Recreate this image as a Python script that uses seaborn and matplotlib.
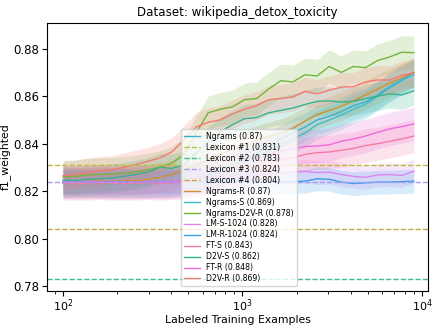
import numpy as np
import pandas as pd
import matplotlib
matplotlib.use("Agg")
import matplotlib.pyplot as plt
import seaborn as sns

# training set sizes (log spaced)
train_sizes = [100, 117, 136, 159, 186, 217, 254, 296, 346, 404, 472, 552, 644, 752, 879,
               1026, 1198, 1400, 1635, 1909, 2230, 2604, 3042, 3552, 4149, 4846, 5659, 6610, 7720, 9000]

ngrams = [0.8236, 0.8235, 0.8237, 0.8236, 0.8235, 0.8236, 0.8237, 0.8236, 0.8237, 0.8238,
          0.8245, 0.8255, 0.8270, 0.8290, 0.8310, 0.8330, 0.8360, 0.8390, 0.8420, 0.8445,
          0.8470, 0.8500, 0.8515, 0.8535, 0.8560, 0.8575, 0.8605, 0.8640, 0.8670, 0.8700]
ngrams_r = [0.8240, 0.8238, 0.8240, 0.8242, 0.8240, 0.8243, 0.8245, 0.8250, 0.8258, 0.8270,
            0.8290, 0.8310, 0.8330, 0.8355, 0.8375, 0.8395, 0.8415, 0.8430, 0.8445, 0.8465,
            0.8495, 0.8522, 0.8540, 0.8558, 0.8580, 0.8605, 0.8630, 0.8655, 0.8678, 0.8700]
ngrams_s = [0.8232, 0.8233, 0.8232, 0.8233, 0.8232, 0.8233, 0.8232, 0.8233, 0.8234, 0.8235,
            0.8240, 0.8250, 0.8262, 0.8280, 0.8300, 0.8320, 0.8345, 0.8370, 0.8390, 0.8420,
            0.8445, 0.8480, 0.8500, 0.8520, 0.8545, 0.8565, 0.8600, 0.8635, 0.8665, 0.8690]
ngrams_d2v_r = [0.8260, 0.8262, 0.8268, 0.8270, 0.8272, 0.8275, 0.8280, 0.8290, 0.8300, 0.8318,
                0.8355, 0.8445, 0.8530, 0.8545, 0.8555, 0.8585, 0.8590, 0.8630, 0.8665, 0.8660,
                0.8690, 0.8685, 0.8725, 0.8700, 0.8725, 0.8720, 0.8750, 0.8765, 0.8785, 0.8783]
lm_s_1024 = [0.8237, 0.8236, 0.8238, 0.8237, 0.8236, 0.8238, 0.8237, 0.8238, 0.8240, 0.8242,
             0.8245, 0.8250, 0.8255, 0.8260, 0.8262, 0.8265, 0.8268, 0.8272, 0.8275, 0.8280,
             0.8283, 0.8278, 0.8280, 0.8270, 0.8262, 0.8258, 0.8268, 0.8270, 0.8266, 0.8284]
lm_r_1024 = [0.8240, 0.8238, 0.8239, 0.8238, 0.8240, 0.8239, 0.8238, 0.8240, 0.8239, 0.8240,
             0.8241, 0.8240, 0.8241, 0.8242, 0.8240, 0.8241, 0.8240, 0.8241, 0.8240, 0.8240,
             0.8242, 0.8252, 0.8250, 0.8238, 0.8232, 0.8235, 0.8238, 0.8238, 0.8240, 0.8242]
ft_s = [0.8233, 0.8232, 0.8233, 0.8234, 0.8233, 0.8232, 0.8233, 0.8234, 0.8233, 0.8234,
        0.8238, 0.8245, 0.8255, 0.8268, 0.8282, 0.8295, 0.8310, 0.8322, 0.8333, 0.8340,
        0.8355, 0.8362, 0.8365, 0.8372, 0.8380, 0.8392, 0.8400, 0.8410, 0.8420, 0.8432]
d2v_s = [0.8247, 0.8245, 0.8250, 0.8252, 0.8255, 0.8262, 0.8270, 0.8280, 0.8300, 0.8296,
         0.8310, 0.8360, 0.8410, 0.8450, 0.8480, 0.8505, 0.8510, 0.8530, 0.8540, 0.8550,
         0.8565, 0.8578, 0.8580, 0.8575, 0.8578, 0.8590, 0.8600, 0.8610, 0.8605, 0.8622]
ft_r = [0.8238, 0.8237, 0.8238, 0.8239, 0.8238, 0.8237, 0.8238, 0.8239, 0.8238, 0.8239,
        0.8245, 0.8255, 0.8268, 0.8285, 0.8300, 0.8320, 0.8340, 0.8355, 0.8370, 0.8378,
        0.8388, 0.8390, 0.8395, 0.8410, 0.8420, 0.8432, 0.8448, 0.8462, 0.8472, 0.8483]
d2v_r = [0.8265, 0.8270, 0.8278, 0.8285, 0.8290, 0.8300, 0.8312, 0.8325, 0.8340, 0.8365,
         0.8415, 0.8470, 0.8490, 0.8500, 0.8525, 0.8545, 0.8560, 0.8585, 0.8590, 0.8597,
         0.8620, 0.8610, 0.8625, 0.8638, 0.8640, 0.8660, 0.8668, 0.8668, 0.8688, 0.8698]

# lexicon baselines (flat)
lexicon_names = ["Lexicon #1", "Lexicon #2", "Lexicon #3", "Lexicon #4"]
lexicon_scores = [0.831, 0.783, 0.824, 0.804]
lexicon_colors = ["#bdbb3a", "#3bbf8c", "#a4a0f0", "#c4aa3c"]

# learning curves: name, values, legend score, colour, band half width
curves = [
    ("Ngrams", ngrams, 0.87, "#3aaed0", 0.006),
    ("Ngrams-R", ngrams_r, 0.87, "#d4902e", 0.006),
    ("Ngrams-S", ngrams_s, 0.869, "#3cbccc", 0.006),
    ("Ngrams-D2V-R", ngrams_d2v_r, 0.878, "#74b43a", 0.007),
    ("LM-S-1024", lm_s_1024, 0.828, "#dc84f0", 0.005),
    ("LM-R-1024", lm_r_1024, 0.824, "#3a9ee8", 0.005),
    ("FT-S", ft_s, 0.843, "#f27ca0", 0.007),
    ("D2V-S", d2v_s, 0.862, "#36b38c", 0.006),
    ("FT-R", ft_r, 0.848, "#ee6ad8", 0.007),
    ("D2V-R", d2v_r, 0.869, "#f47a72", 0.006),
]
legend_order = ["Ngrams", "Lexicon #1", "Lexicon #2", "Lexicon #3", "Lexicon #4",
                "Ngrams-R", "Ngrams-S", "Ngrams-D2V-R", "LM-S-1024", "LM-R-1024",
                "FT-S", "D2V-S", "FT-R", "D2V-R"]

fig, ax = plt.subplots(figsize=(4.37, 3.26), dpi=100)
fig.subplots_adjust(left=0.1076, right=0.9794, top=0.9294, bottom=0.107)

handles = {}
for name, vals, score, col, hw in curves:
    df = pd.DataFrame({"n": train_sizes, "f1": vals})
    sns.lineplot(data=df, x="n", y="f1", color=col, linewidth=1.0, ax=ax,
                 label=f"{name} ({score:g})")
    lo = np.array(vals) - hw
    hi = np.array(vals) + hw
    ax.fill_between(train_sizes, lo, hi, color=col, alpha=0.2, linewidth=0)
    handles[name] = ax.lines[-1]

for name, score, col in zip(lexicon_names, lexicon_scores, lexicon_colors):
    handles[name] = ax.axhline(score, color=col, linestyle="--", linewidth=1.0,
                               label=f"{name} ({score:g})")

ax.set_xscale("log")
ax.set_xlim(81.5, 10800)
ax.set_ylim(0.7779, 0.8908)
ax.set_yticks([0.78, 0.80, 0.82, 0.84, 0.86, 0.88])
ax.set_yticklabels(["0.78", "0.80", "0.82", "0.84", "0.86", "0.88"])
ax.tick_params(labelsize=8.5, length=3.5, pad=2)
ax.tick_params(axis="x", labelsize=8, pad=1)
ax.tick_params(which="minor", length=2)
ax.set_xlabel("Labeled Training Examples", fontsize=7.8)
ax.xaxis.set_label_coords(0.5, -0.088)
ax.set_ylabel("f1_weighted", fontsize=7.8, labelpad=2)
ax.set_title("Dataset: wikipedia_detox_toxicity", fontsize=8.6, pad=5)

hs = [handles[n] for n in legend_order]
ax.legend(hs, [h.get_label() for h in hs], loc="lower center",
          bbox_to_anchor=(0.504, 0.018), borderaxespad=0, fontsize=5.6,
          labelspacing=0.25)

fig.savefig("out.png", dpi=100)
